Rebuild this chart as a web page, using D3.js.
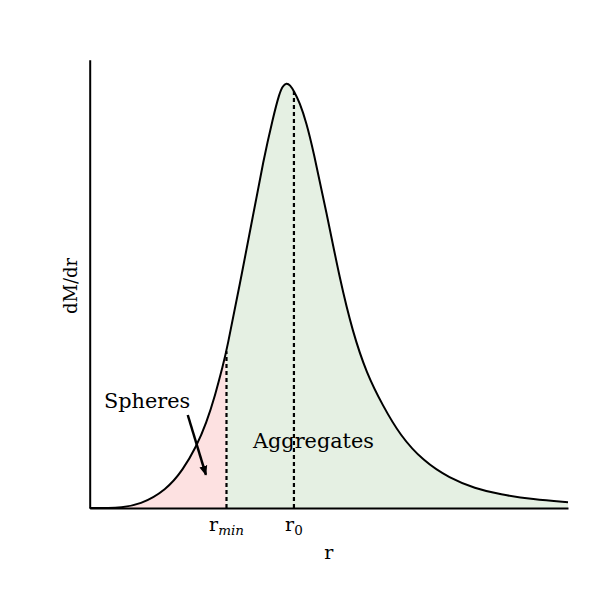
<!DOCTYPE html>
<html>
<head>
<meta charset="utf-8">
<script src="https://cdn.jsdelivr.net/npm/d3@7"></script>
<style>
  html, body { margin: 0; padding: 0; background: #fff; }
  svg text { font-family: "DejaVu Serif", serif; fill: #000; }
</style>
</head>
<body>
<svg id="chart" width="598" height="598"></svg>
<script>
// ---- data ----
const rValues = [0, 0.42, 0.63, 1.05, 1.60, 1.95, 2.23, 2.44, 2.62, 2.79, 2.86, 3.14, 3.42, 3.63, 3.83, 3.97, 4.04, 4.11, 4.19, 4.27, 4.39, 4.53, 4.67, 4.95, 5.23, 5.50, 5.79, 6.13, 6.49, 6.97, 7.53, 8.05, 8.58, 9.27, 10.0];
const dMdrValues = [0, 0, 0.001, 0.007, 0.040, 0.085, 0.137, 0.190, 0.250, 0.320, 0.350, 0.500, 0.655, 0.775, 0.870, 0.927, 0.942, 0.948, 0.944, 0.930, 0.905, 0.860, 0.800, 0.660, 0.510, 0.392, 0.300, 0.228, 0.162, 0.105, 0.066, 0.044, 0.030, 0.019, 0.013];
const rMin = 2.86;
const r0 = 4.27;
const markerNames = ["min", "0"];   // subscripts of r for the two marked radii
const axisLabels = { x: "r", y: "dM/dr" };
const regionLabels = ["Spheres", "Aggregates"];

const points = rValues.map((r, i) => ({ r, v: dMdrValues[i] }));
const valueAt = r => points.find(p => p.r === r).v;

const W = 598, H = 598;
const margin = { left: 89.7, right: 30, top: 59.8, bottom: 90 };
const svg = d3.select("#chart");

const x = d3.scaleLinear().domain([0, 10]).range([margin.left, W - margin.right]);
const y = d3.scaleLinear().domain([0, 1]).range([H - margin.bottom, margin.top]);

const curve = d3.curveBasis;
const area = d3.area().x(d => x(d.r)).y0(y(0)).y1(d => y(d.v)).curve(curve);
const line = d3.line().x(d => x(d.r)).y(d => y(d.v)).curve(curve);

// fills
svg.append("path").datum(points.filter(p => p.r <= rMin))
  .attr("d", area).attr("fill", "rgb(253,225,225)");
svg.append("path").datum(points.filter(p => p.r >= rMin))
  .attr("d", area).attr("fill", "rgb(229,240,227)");

// dashed markers
[rMin, r0].forEach(r => {
  svg.append("line")
    .attr("x1", x(r)).attr("x2", x(r))
    .attr("y1", y(0)).attr("y2", y(valueAt(r)))
    .attr("stroke", "#000").attr("stroke-width", 2.2)
    .attr("stroke-dasharray", "4,3");
});

// curve
svg.append("path").datum(points).attr("d", line)
  .attr("fill", "none").attr("stroke", "#000").attr("stroke-width", 2);

// axes (spines only)
const xAxis = d3.axisBottom(x).tickValues([rMin, r0]).tickSize(0).tickSizeOuter(0).tickFormat("");
const gx = svg.append("g").attr("transform", `translate(0,${y(0)})`).call(xAxis);
gx.select(".domain").attr("stroke", "#000").attr("stroke-width", 2);
const yAxis = d3.axisLeft(y).tickValues([]).tickSize(0).tickSizeOuter(0);
const gy = svg.append("g").attr("transform", `translate(${x(0)},0)`).call(yAxis);
gy.select(".domain").attr("stroke", "#000").attr("stroke-width", 2);

// tick labels with subscripts
[rMin, r0].forEach((r, i) => {
  const t = svg.append("text")
    .attr("x", x(r)).attr("y", y(0) + 23)
    .attr("text-anchor", "middle").attr("font-size", 19);
  t.append("tspan").text("r");
  t.append("tspan").attr("dy", 4).attr("font-size", 13.5)
    .attr("font-style", i === 0 ? "italic" : "normal").text(markerNames[i]);
});

// axis labels
svg.append("text").attr("x", x(5)).attr("y", 559)
  .attr("text-anchor", "middle").attr("font-size", 19).text(axisLabels.x);
svg.append("text")
  .attr("transform", `translate(77,${y(0.5) + 2}) rotate(-90)`)
  .attr("text-anchor", "middle").attr("font-size", 18).text(axisLabels.y);

// annotations
svg.append("text").attr("x", 104).attr("y", 408).attr("font-size", 20.8).text(regionLabels[0]);
svg.append("text").attr("x", 253).attr("y", 448).attr("font-size", 20.8).text(regionLabels[1]);

// arrow
svg.append("defs").append("marker")
  .attr("id", "arrow").attr("viewBox", "0 0 10 10")
  .attr("refX", 9).attr("refY", 5)
  .attr("markerWidth", 4).attr("markerHeight", 4)
  .attr("markerUnits", "strokeWidth")
  .attr("orient", "auto")
  .append("path").attr("d", "M0,1 L10,5 L0,9 z").attr("fill", "#000");
svg.append("line")
  .attr("x1", x(2.05)).attr("y1", y(0.2075))
  .attr("x2", x(2.43)).attr("y2", y(0.074))
  .attr("stroke", "#000").attr("stroke-width", 2.5)
  .attr("marker-end", "url(#arrow)");
</script>
</body>
</html>
